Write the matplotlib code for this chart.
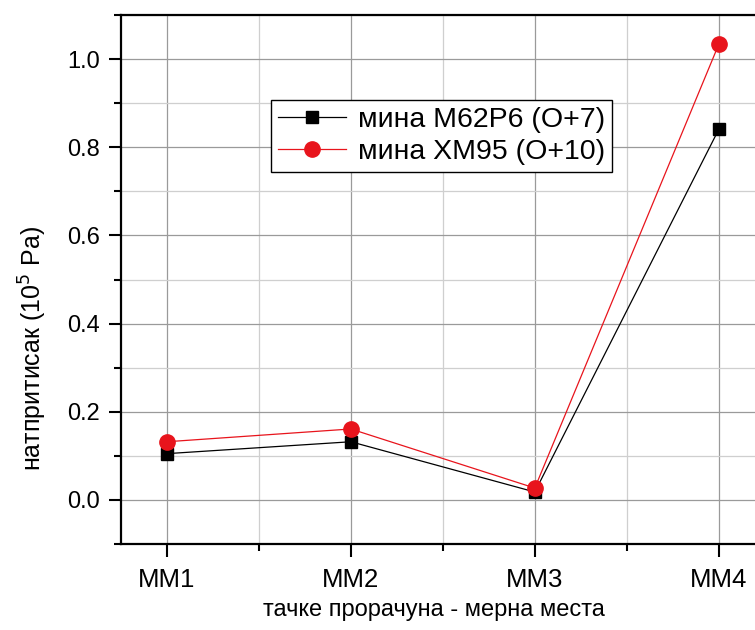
import matplotlib.pyplot as plt
from matplotlib.ticker import MultipleLocator

plt.rcParams['font.family'] = ['Liberation Sans', 'DejaVu Sans']

# Данные
points = ["MM1", "MM2", "MM3", "MM4"]
x_pos = [1, 2, 3, 4]
m62p6 = [0.105, 0.132, 0.018, 0.841]
xm95 = [0.132, 0.161, 0.027, 1.034]

fig = plt.figure(figsize=(7.55, 6.3), dpi=100)
ax = fig.add_axes([0.160, 0.1365, 0.853, 0.8395])

ax.plot(x_pos, m62p6, color="black", lw=0.9, marker="s", ms=9,
        label="мина M62P6 (O+7)", zorder=3)
ax.plot(x_pos, xm95, color="#e8141c", lw=0.9, marker="o", ms=11,
        label="мина XM95 (O+10)", zorder=3)

ax.set_xlim(0.75, 4.25)
ax.set_ylim(-0.1, 1.1)
ax.set_xticks(x_pos)
ax.set_xticklabels(points)
ax.xaxis.set_minor_locator(MultipleLocator(0.5))
ax.yaxis.set_major_locator(MultipleLocator(0.2))
ax.yaxis.set_minor_locator(MultipleLocator(0.1))
ax.yaxis.set_major_formatter(plt.FormatStrFormatter("%.1f"))

ax.grid(which="major", color="#9a9a9a", lw=0.9)
ax.grid(which="minor", color="#cfcfcf", lw=0.9)
ax.set_axisbelow(True)

ax.tick_params(which="major", direction="out", length=9, width=1.5, pad=6)
ax.tick_params(which="minor", direction="out", length=5, width=1.5)
ax.tick_params(axis="y", labelsize=17)
ax.tick_params(axis="x", labelsize=18.5, pad=8)
ax.tick_params(top=False, right=False)
for s in ax.spines.values():
    s.set_linewidth(1.6)

ax.set_xlabel("тачке прорачуна - мерна места", fontsize=17)
ax.set_ylabel("натпритисак (10$^5$ Pa)", fontsize=18)
# подписи смещены как в оригинале (рисунок обрезан)
ax.xaxis.set_label_coords(0.486, -0.104)
ax.yaxis.set_label_coords(-0.112, 0.37)

leg = ax.legend(loc="upper left", bbox_to_anchor=(0.233, 0.839), fontsize=20.5,
                frameon=True, fancybox=False, edgecolor="black",
                borderaxespad=0, handlelength=2.4, borderpad=0.25,
                labelspacing=0.2, handletextpad=0.4, framealpha=1)
leg.get_frame().set_linewidth(1.0)

fig.savefig("out.png", dpi=100)
